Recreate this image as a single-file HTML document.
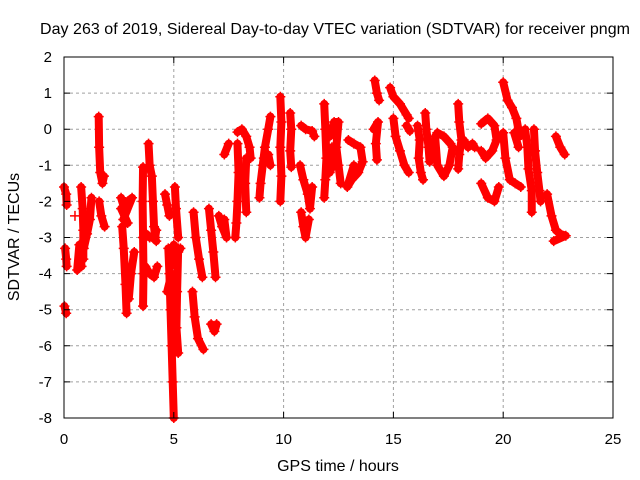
<!DOCTYPE html>
<html><head><meta charset="utf-8"><style>
body{margin:0;background:#fff}
svg{display:block;font-family:"Liberation Sans",sans-serif}
</style></head><body>
<svg id="chart" width="640" height="480">
<g id="grid"></g>
<g id="marks"></g>
<rect x="64" y="57" width="549" height="361" fill="none" stroke="#000" stroke-width="1"/>
<g id="axes"></g>
<text x="335" y="34" font-size="16" text-anchor="middle" textLength="590">Day 263 of 2019, Sidereal Day-to-day VTEC variation (SDTVAR) for receiver pngm</text>
<text x="338" y="471" font-size="16" text-anchor="middle">GPS time / hours</text>
<text transform="translate(19,237) rotate(-90)" font-size="16" text-anchor="middle">SDTVAR / TECUs</text>
</svg>
<script>
const xTicks=[0,5,10,15,20,25];
const yTicks=[2,1,0,-1,-2,-3,-4,-5,-6,-7,-8];
const tracks=[
[[0.0,-1.6],[0.1,-1.8],[0.12,-2.1]],
[[0.05,-3.3],[0.1,-3.6],[0.12,-3.8]],
[[0.02,-4.9],[0.1,-5.1]],
[[0.5,-2.4]],
[[0.6,-3.9],[0.7,-3.2],[0.8,-3.8]],
[[0.78,-1.6],[0.85,-2.2],[0.88,-2.8],[0.88,-3.6]],
[[0.9,-3.3],[1.05,-2.9],[1.18,-2.5],[1.25,-1.9]],
[[1.58,0.35],[1.6,-0.5],[1.65,-1.2],[1.75,-1.5],[1.82,-1.3]],
[[1.6,-2.0],[1.7,-2.4],[1.85,-2.7]],
[[2.6,-1.9],[2.8,-2.3],[2.9,-2.0],[3.1,-1.9],[2.7,-2.5],[2.9,-2.6],[2.6,-2.2]],
[[2.65,-2.7],[2.72,-3.3],[2.8,-4.3],[2.85,-5.1]],
[[2.95,-4.7],[3.05,-4.0],[3.2,-3.4]],
[[3.6,-1.05],[3.58,-2.0],[3.6,-3.0],[3.62,-4.0],[3.6,-4.9]],
[[3.85,-0.4],[3.9,-1.0],[4.0,-1.3],[4.05,-2.0],[4.1,-2.7],[4.15,-3.0],[4.2,-2.8]],
[[3.75,-2.9],[3.9,-3.0],[4.05,-3.0],[4.2,-3.1]],
[[3.7,-3.8],[3.9,-4.0],[4.1,-4.1],[4.25,-3.8]],
[[4.6,-1.8],[4.7,-2.1],[4.8,-2.4]],
[[5.05,-1.6],[5.1,-2.2],[5.2,-3.0]],
[[4.75,-3.3],[4.8,-4.0],[4.85,-5.0],[4.9,-6.0],[4.95,-7.0],[5.0,-8.0]],
[[5.0,-3.2],[5.1,-3.8],[5.2,-3.4],[5.3,-3.3]],
[[5.2,-3.3],[5.15,-4.5],[5.12,-5.5],[5.2,-6.2]],
[[4.7,-4.5],[4.9,-4.0],[5.1,-4.1]],
[[5.9,-2.3],[6.0,-3.0],[6.15,-3.6],[6.3,-4.1]],
[[5.85,-4.5],[5.95,-5.2],[6.1,-5.8],[6.35,-6.1]],
[[6.6,-2.2],[6.7,-2.8],[6.8,-3.4],[6.9,-4.1]],
[[6.7,-5.4],[6.85,-5.6],[6.95,-5.4]],
[[7.05,-2.4],[7.2,-2.7],[7.4,-3.0],[7.3,-2.5]],
[[7.3,-0.7],[7.5,-0.4]],
[[7.9,-0.08],[8.1,0.0],[8.3,-0.2],[8.45,-0.5],[8.5,-0.8]],
[[7.9,-0.4],[7.95,-1.2],[7.9,-2.0],[7.85,-2.6],[7.8,-3.0]],
[[8.3,-0.8],[8.25,-1.5],[8.3,-2.3]],
[[9.4,0.35],[9.3,0.0],[9.15,-0.5],[9.05,-1.0],[8.95,-1.5],[8.9,-1.9]],
[[9.1,-0.8],[9.3,-0.7],[9.4,-1.0]],
[[9.85,0.9],[9.9,0.2],[9.85,-0.5],[9.9,-1.3],[9.85,-2.0]],
[[10.3,0.45],[10.35,0.0],[10.3,-0.6],[10.35,-1.05]],
[[10.8,0.1],[11.0,0.0],[11.3,-0.05],[11.4,-0.2]],
[[10.75,-1.0],[10.9,-1.4],[11.1,-1.8],[11.2,-2.2],[11.3,-1.6]],
[[10.8,-2.3],[10.9,-2.7],[11.0,-3.0],[11.15,-2.5]],
[[11.85,0.7],[11.9,0.0],[11.95,-0.8],[11.9,-1.4],[11.85,-1.9]],
[[12.1,-0.2],[12.3,0.2],[12.5,0.2],[12.4,-0.5],[12.5,-1.0],[12.6,-1.5]],
[[12.1,-1.2],[12.3,-0.9],[12.2,-0.5]],
[[12.95,-0.3],[13.2,-0.4],[13.5,-0.5],[13.6,-0.9],[13.4,-1.2],[13.1,-1.4],[12.9,-1.6],[13.2,-1.0]],
[[14.15,1.35],[14.25,1.0],[14.35,0.8]],
[[14.1,0.0],[14.3,0.2],[14.2,-0.4],[14.25,-0.85]],
[[14.85,1.15],[15.0,0.9],[15.3,0.7],[15.6,0.4],[15.7,0.3]],
[[15.0,0.3],[15.1,-0.2],[15.3,-0.6],[15.5,-1.0],[15.7,-1.2]],
[[15.6,0.1],[15.75,-0.05]],
[[16.1,0.1],[16.2,-0.3],[16.15,-0.8],[16.25,-1.2],[16.35,-1.4]],
[[16.45,0.45],[16.5,0.0],[16.6,-0.5],[16.65,-0.9]],
[[16.9,-0.2],[17.0,-1.0],[17.3,-1.3],[17.55,-1.0],[17.7,-0.5]],
[[17.0,-0.1],[17.3,-0.2],[17.6,-0.4]],
[[17.95,0.7],[18.0,0.2],[18.1,-0.3],[18.0,-0.7],[17.95,-1.1]],
[[18.2,-0.3],[18.4,-0.5],[18.6,-0.4],[18.7,-0.5]],
[[19.0,0.15],[19.3,0.3],[19.6,0.1],[19.7,-0.3],[19.5,-0.6],[19.2,-0.8],[19.0,-0.6]],
[[19.0,-1.5],[19.3,-1.9],[19.6,-2.0],[19.8,-1.6]],
[[20.0,1.3],[20.2,0.8],[20.4,0.6],[20.6,0.3],[20.75,-0.2]],
[[20.0,-0.1],[20.1,-0.8],[20.3,-1.4],[20.55,-1.5],[20.8,-1.6]],
[[20.5,-0.1],[20.7,-0.5]],
[[21.0,0.0],[21.1,-0.5],[21.15,-1.1],[21.3,-1.7],[21.3,-2.3]],
[[21.4,0.0],[21.45,-0.6],[21.55,-1.2],[21.65,-1.7],[21.7,-2.0]],
[[22.0,-1.8],[22.2,-2.4],[22.4,-2.8],[22.6,-2.9],[22.85,-2.95],[22.3,-3.1]],
[[22.4,-0.2],[22.6,-0.5],[22.8,-0.7]]
];
const svgNS="http://www.w3.org/2000/svg";
const X=t=>64+t*(549/25);
const Y=v=>57+(2-v)*(361/10);
const grid=document.getElementById('grid'),axes=document.getElementById('axes'),marks=document.getElementById('marks');
function mk(tag,attrs,parent){const e=document.createElementNS(svgNS,tag);for(const k in attrs)e.setAttribute(k,attrs[k]);parent.appendChild(e);return e;}
xTicks.forEach(t=>{
  if(t>0&&t<25){const g=mk('line',{x1:X(t),x2:X(t),y1:57,y2:418,stroke:'#a0a0a0','stroke-dasharray':'3,3'},grid);
  
  }
  const tk=mk('path',{d:`M${X(t)},418v-6M${X(t)},57v6`,stroke:'#000'},axes);
  
  
  const l=mk('text',{x:X(t),y:444,'font-size':15,'text-anchor':'middle'},axes);l.textContent=t;
  
  
});
yTicks.forEach(v=>{
  if(v<2&&v>-8){const g=mk('line',{x1:64,x2:613,y1:Y(v),y2:Y(v),stroke:'#a0a0a0','stroke-dasharray':'3,3'},grid);
  
  }
  const tk=mk('path',{d:`M64,${Y(v)}h6M613,${Y(v)}h-6`,stroke:'#000'},axes);
  
  
  const l=mk('text',{x:52,y:Y(v)+5,'font-size':15,'text-anchor':'end'},axes);l.textContent=v;
  
  
});
tracks.forEach(tr=>{
  const p=mk('polyline',{points:tr.map(d=>X(d[0])+','+Y(d[1])).join(' '),fill:'none',stroke:'#f00','stroke-width':8,'stroke-linejoin':'round','stroke-linecap':'round'},marks);
  
  
  tr.forEach(d=>{
    const c=mk('path',{d:`M${X(d[0])-5},${Y(d[1])}h10M${X(d[0])},${Y(d[1])-5}v10`,stroke:'#f00','stroke-width':1.5},marks);
    
    
  });
});
</script>
</body></html>
